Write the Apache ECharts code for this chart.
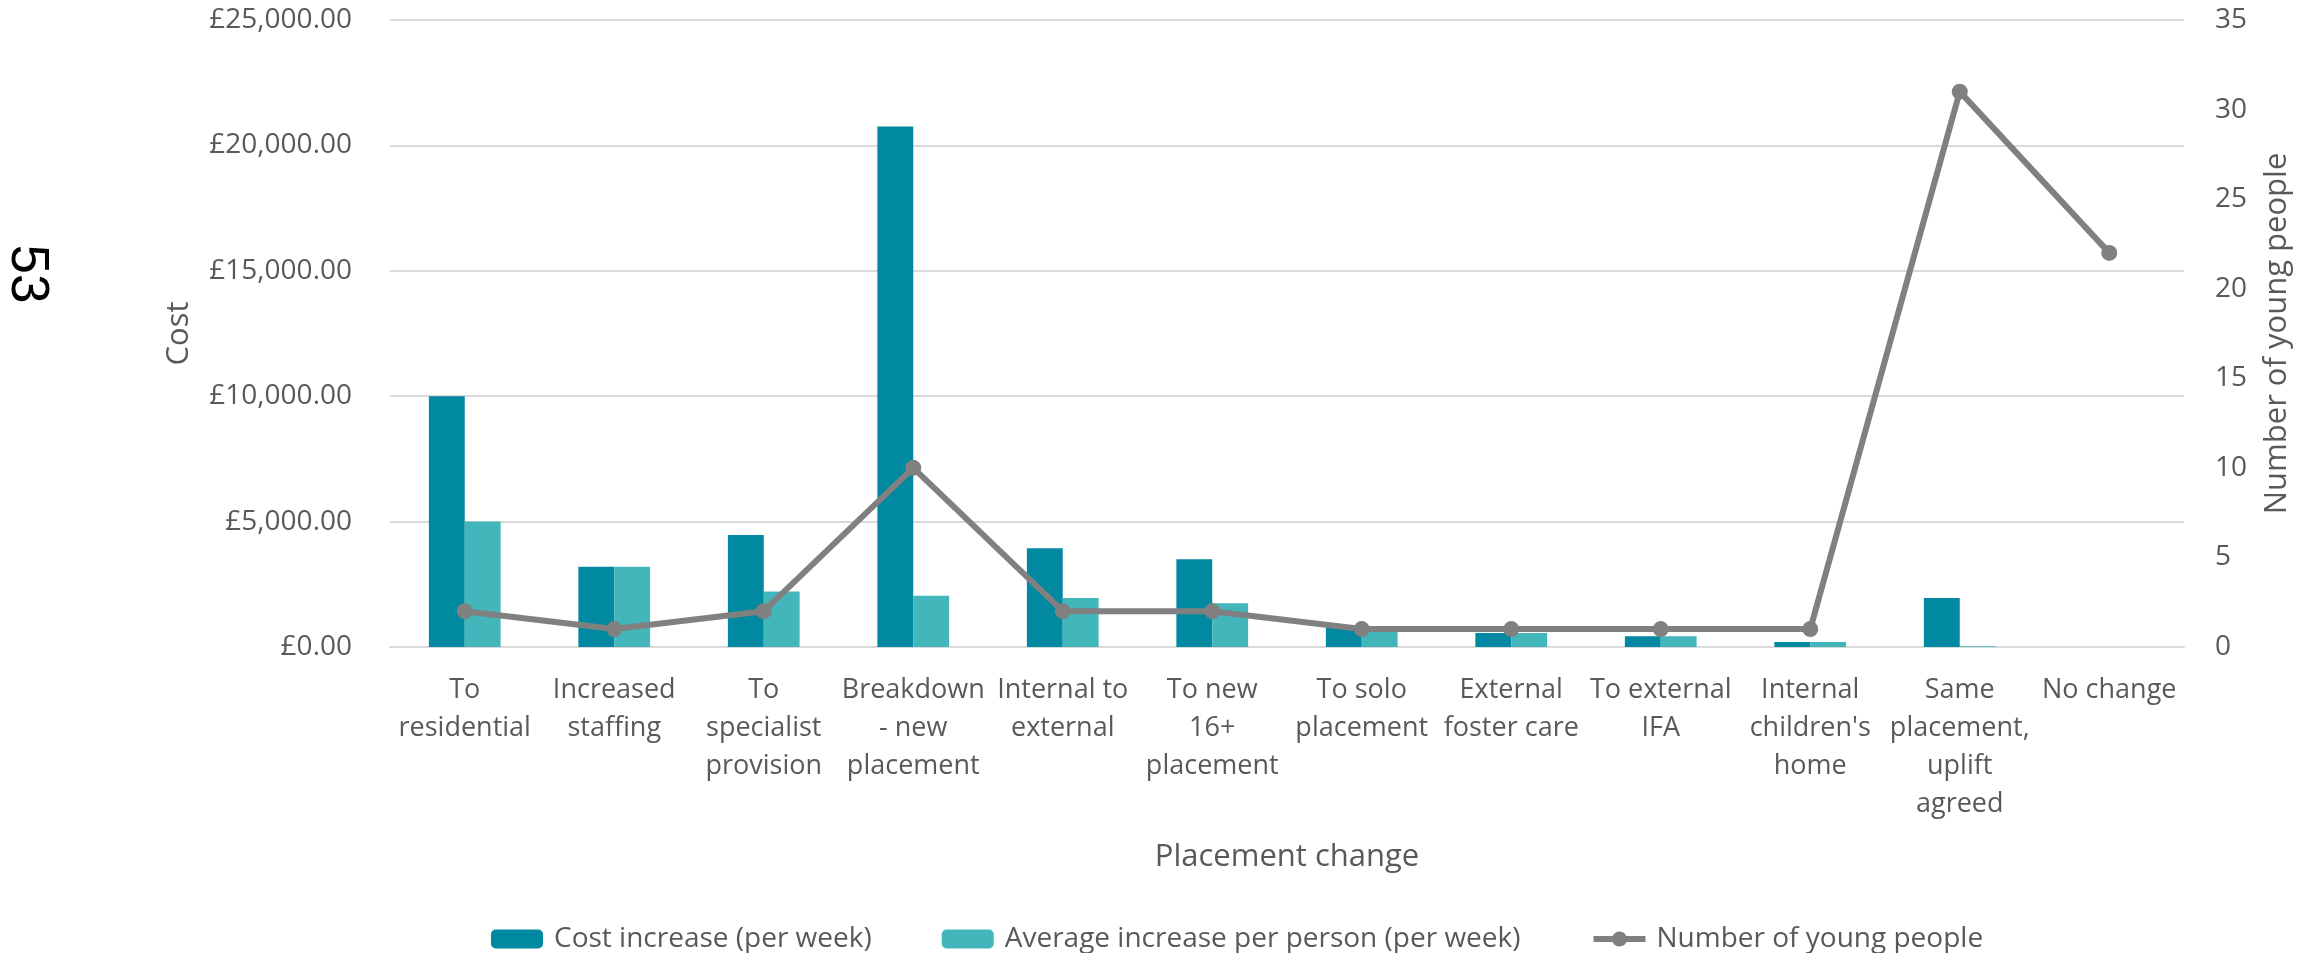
<!DOCTYPE html>
<html>
<head>
<meta charset="utf-8">
<script src="https://cdn.jsdelivr.net/npm/echarts@6/dist/echarts.min.js"></script>
<style>
  html, body { margin: 0; padding: 0; background: #fff; }
  #main { width: 2323px; height: 953px; }
</style>
</head>
<body>
<div id="main"></div>
<script>
// placement change categories (wrapped like the original axis)
var categories = [
    'To\nresidential',
    'Increased\nstaffing',
    'To\nspecialist\nprovision',
    'Breakdown\n- new\nplacement',
    'Internal to\nexternal',
    'To new\n16+\nplacement',
    'To solo\nplacement',
    'External\nfoster care',
    'To external\nIFA',
    'Internal\nchildren\'s\nhome',
    'Same\nplacement,\nuplift\nagreed',
    'No change'
];
// cost increase per week (£)
var costIncrease = [10000, 3200, 4470, 20750, 3940, 3500, 800, 560, 430, 200, 1950, 0];
// average increase per person per week (£)
var avgIncrease = [5000, 3200, 2210, 2040, 1950, 1740, 800, 560, 430, 200, 30, 0];
// number of young people (right axis)
var youngPeople = [2, 1, 2, 10, 2, 2, 1, 1, 1, 1, 31, 22];

var seriesNames = ['Cost increase (per week)', 'Average increase per person (per week)', 'Number of young people'];

var txtColor = '#595959';
var gridColor = '#d9d9d9';
var font = 'Open Sans';

//金额格式
function money(v) {
    var s = v.toFixed(2);
    var parts = s.split('.');
    parts[0] = parts[0].replace(/\B(?=(\d{3})+(?!\d))/g, ',');
    return '£' + parts.join('.');
}

var chart = echarts.init(document.getElementById('main'));

var option = {
    backgroundColor: '#fff',
    animation: false,
    textStyle: { fontFamily: font },
    grid: {
        left: 390,
        right: 139,
        top: 20,
        bottom: 306
    },
    legend: {
        left: 486,
        top: 920,
        itemWidth: 52,
        itemHeight: 19,
        itemGap: 70,
        data: seriesNames,
        lineStyle: { width: 6 },
        textStyle: {
            color: txtColor,
            fontSize: 28,
            fontFamily: font,
            padding: [0, 0, 0, 6]
        }
    },
    xAxis: {
        type: 'category',
        data: categories,
        name: 'Placement change',
        nameLocation: 'middle',
        nameGap: 195,
        nameTextStyle: { color: txtColor, fontSize: 31, fontFamily: font },
        axisTick: { show: false },
        axisLine: { lineStyle: { color: gridColor, width: 2 } },
        axisLabel: {
            interval: 0,
            color: txtColor,
            fontSize: 27,
            lineHeight: 38,
            margin: 24,
            fontFamily: font
        }
    },
    yAxis: [{
        type: 'value',
        min: 0,
        max: 25000,
        interval: 5000,
        name: 'Cost',
        nameLocation: 'middle',
        nameGap: 195,
        nameTextStyle: { color: txtColor, fontSize: 31, fontFamily: font },
        axisLine: { show: false },
        axisTick: { show: false },
        splitLine: { lineStyle: { color: gridColor, width: 2 } },
        axisLabel: {
            color: txtColor,
            fontSize: 28,
            margin: 38,
            fontFamily: font,
            formatter: function (v) { return money(v); }
        }
    }, {
        type: 'value',
        min: 0,
        max: 35,
        interval: 5,
        name: 'Number of young people',
        nameLocation: 'middle',
        nameGap: 78,
        nameTextStyle: { color: txtColor, fontSize: 31, fontFamily: font },
        axisLine: { show: false },
        axisTick: { show: false },
        splitLine: { show: false },
        axisLabel: {
            color: txtColor,
            fontSize: 28,
            margin: 31,
            fontFamily: font
        }
    }],
    series: [{
        name: seriesNames[0],
        type: 'bar',
        yAxisIndex: 0,
        data: costIncrease,
        barGap: '0%',
        barCategoryGap: '52%',
        itemStyle: { color: '#0089a0' }
    }, {
        name: seriesNames[1],
        type: 'bar',
        yAxisIndex: 0,
        data: avgIncrease,
        itemStyle: { color: '#43b6bc' }
    }, {
        name: seriesNames[2],
        type: 'line',
        yAxisIndex: 1,
        data: youngPeople,
        symbol: 'circle',
        symbolSize: 16,
        lineStyle: { color: '#808080', width: 6 },
        itemStyle: { color: '#808080' }
    }],
    graphic: [{
        type: 'text',
        x: 27,
        y: 274,
        rotation: -Math.PI / 2,
        style: {
            text: '53',
            font: '53px "Liberation Sans"',
            fill: '#000',
            textAlign: 'center',
            textVerticalAlign: 'middle'
        }
    }]
};

chart.setOption(option);
</script>
</body>
</html>
